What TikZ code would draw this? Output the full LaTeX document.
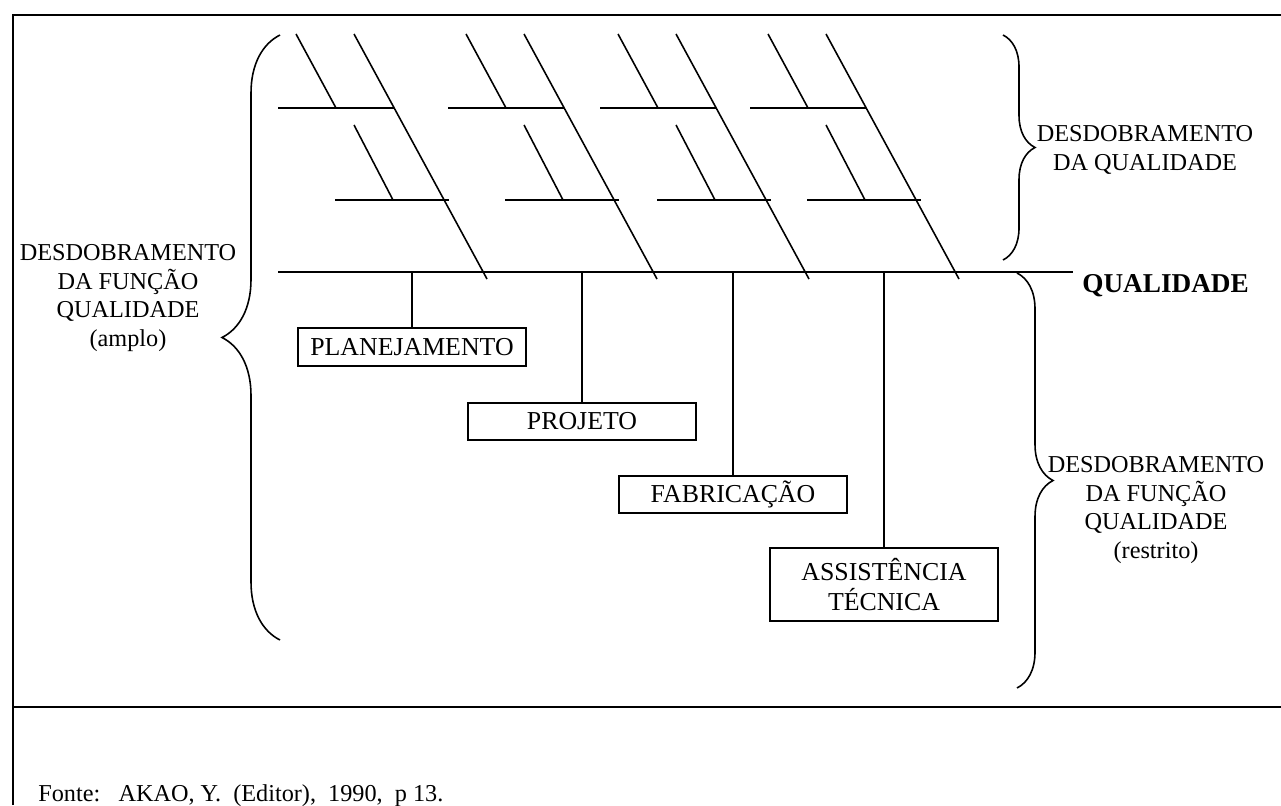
\documentclass[tikz,border=0pt]{standalone}
\usepackage{fontspec}
\setmainfont{Liberation Serif}
\usepackage{tikz}
\usetikzlibrary{positioning,decorations.pathreplacing,calc}

\begin{document}
\begin{tikzpicture}[x=0.2mm,y=-0.2mm,
    font=\fontsize{13.8}{16.3}\selectfont,
    bone/.style={line width=0.9pt},
    frameline/.style={line width=1.3pt},
    areabox/.style={draw,line width=0.9pt,inner sep=0pt,align=center,
        minimum width=45.6mm,font=\fontsize{14.7}{17.6}\selectfont},
    brc/.style={decorate,line width=0.9pt,decoration={brace,amplitude=#1}},
    lbl/.style={align=center,inner sep=0pt}]
    \useasboundingbox (0,0) rectangle (1281,805);

    % frame and source line
    \draw[frameline] (13,805) -- (13,15) -- (1281,15);
    \draw[frameline] (13,707) -- (1281,707);
    \node[anchor=base west,inner sep=0pt] (fonte) at (38,801)
        {Fonte:\ \ \ AKAO, Y.\ \ (Editor),\ \ 1990,\ \ p 13.};

    % spine and bones
    \draw[bone] (278,272) coordinate (tail) -- (1073,272) coordinate (head);
    \foreach \dx in {0,170,322,472} {
        \draw[bone] (354+\dx,34) -- (487+\dx,279);
        \draw[bone] (278+\dx,108) -- (394+\dx,108);
        \draw[bone] (296+\dx,34) -- (336+\dx,108);
        \draw[bone] (335+\dx,200) -- (449+\dx,200);
        \draw[bone] (354+\dx,125) -- (393+\dx,200);
    }
    \node[anchor=west,inner sep=0pt,font=\fontsize{15.5}{18}\selectfont\bfseries] (qual) at (1082,286) {QUALIDADE};

    % stages
    \node[areabox,minimum height=7.6mm] (plan) at (412,347) {PLANEJAMENTO};
    \node[areabox,minimum height=7.4mm] (proj) at (582,421.5) {PROJETO};
    \node[areabox,minimum height=7.4mm] (fabr) at (733,494.5) {FABRICAÇÃO};
    \node[areabox,minimum height=14.6mm] (assist) at (884,584.5) {ASSISTÊNCIA\\TÉCNICA};

    \coordinate (s1) at (412,272);
    \coordinate (s2) at (582,272);
    \coordinate (s3) at (733,272);
    \coordinate (s4) at (884,272);
    \draw[bone] (s1) -- (plan.north);
    \draw[bone] (s2) -- (proj.north);
    \draw[bone] (s3) -- (fabr.north);
    \draw[bone] (s4) -- (assist.north);

    % braces
    \draw[brc=11.6mm] (280,640) -- (280,35);
    \draw[brc=6.4mm] (1003,35) -- (1003,260);
    \draw[brc=7.2mm] (1017,273) -- (1017,688);

    \node[lbl] (amplo) at (128,298) {DESDOBRAMENTO\\DA FUNÇÃO\\QUALIDADE\\(amplo)};
    \node[lbl] (desdq) at (1145,150) {DESDOBRAMENTO\\DA QUALIDADE};
    \node[lbl] (restrito) at (1156,510) {DESDOBRAMENTO\\DA FUNÇÃO\\QUALIDADE\\(restrito)};
\end{tikzpicture}
\end{document}
